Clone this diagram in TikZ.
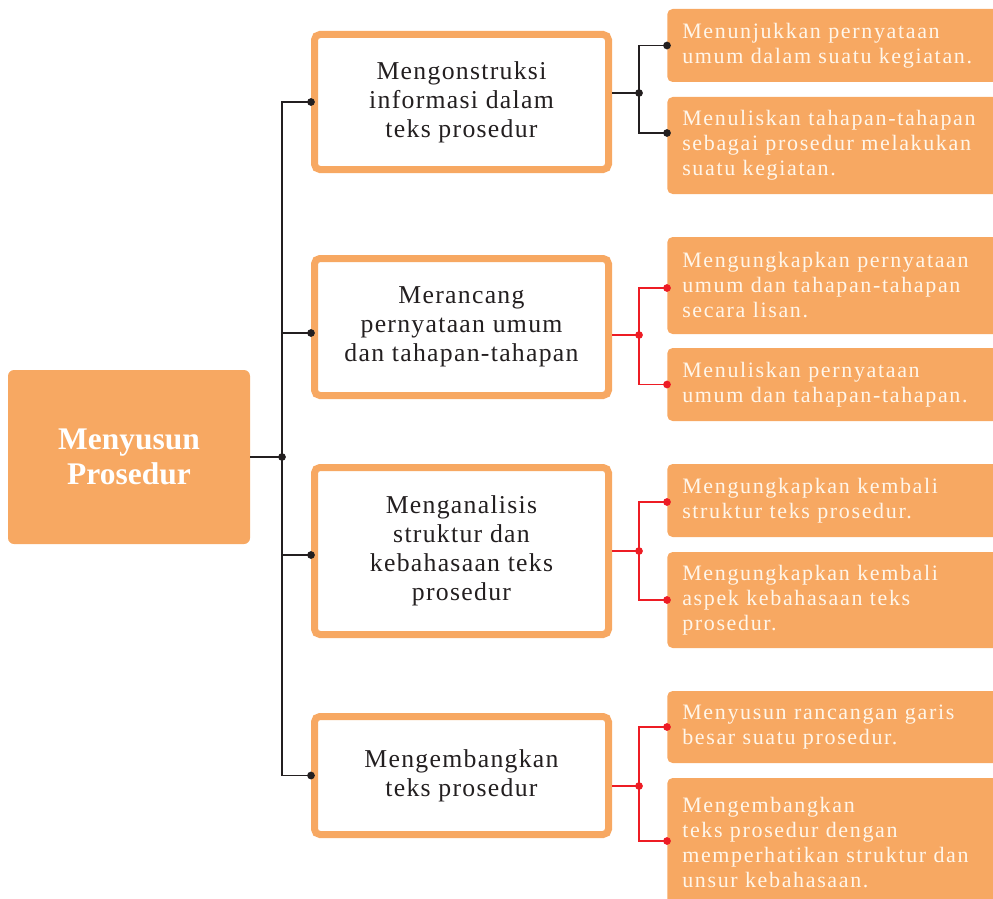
\documentclass[tikz,border=0pt]{standalone}
\usepackage{fontspec}
\setmainfont{Liberation Serif}
\newfontfamily\midfont[LetterSpace=5]{Liberation Serif}
\newfontfamily\rightfont[LetterSpace=7.5]{Liberation Serif}
\definecolor{orng}{HTML}{F7A862}
\definecolor{inkdark}{HTML}{231F20}
\definecolor{cream}{HTML}{FFF6EA}
\definecolor{redline}{HTML}{ED1C24}
\tikzset{
  rootbox/.style={rectangle, fill=orng, rounded corners=4.5pt, minimum width=181.5pt, minimum height=130.5pt,
    inner sep=0pt, align=center, text=white, font=\bfseries\fontsize{23.6}{26.25}\selectfont},
  midbox/.style={rectangle, draw=orng, line width=5.25pt, rounded corners=4pt, fill=white,
    minimum width=220.5pt, inner sep=0pt, align=center, text=inkdark, font=\midfont\fontsize{19.3}{21.75}\selectfont},
  rbox/.style={rectangle, fill=orng, rounded corners=4pt, anchor=west, minimum width=262.5pt,
    text width=240pt, inner xsep=11.25pt, inner ysep=0pt, align=left, text=cream,
    font=\rightfont\fontsize{16.5}{18.75}\selectfont},
  blk/.style={draw=inkdark, line width=1.3pt},
  redl/.style={draw=redline, line width=1.3pt},
  bdot/.style={fill=inkdark, draw=none},
  rdot/.style={fill=redline, draw=none}
}
\begin{document}
\begin{tikzpicture}[x=0.75pt, y=-0.75pt]
\useasboundingbox (0,0) rectangle (993,899);
% root
\node[rootbox] (root) at (129,457) {Menyusun\\Prosedur};
% middle boxes
\node[midbox, minimum height=101.25pt] (m1) at (461.5,102) {Mengonstruksi\\informasi dalam\\teks prosedur};
\node[midbox, minimum height=102.75pt] (m2) at (461.5,327) {Merancang\\pernyataan umum\\dan tahapan-tahapan};
\node[midbox, minimum height=125.25pt] (m3) at (461.5,551) {Menganalisis\\struktur dan\\kebahasaan teks\\prosedur};
\node[midbox, minimum height=88.5pt] (m4) at (461.5,775.5) {Mengembangkan\\teks prosedur};
% right boxes
\node[rbox, minimum height=54.75pt] (r1) at (667,45.5) {Menunjukkan pernyataan\\umum dalam suatu kegiatan.};
\node[rbox, minimum height=72.75pt] (r2) at (667,145.5) {Menuliskan tahapan-tahapan\\sebagai prosedur melakukan\\suatu kegiatan.};
\node[rbox, minimum height=72.75pt] (r3) at (667,285.5) {Mengungkapkan pernyataan\\umum dan tahapan-tahapan\\secara lisan.};
\node[rbox, minimum height=54.75pt] (r4) at (667,384.5) {Menuliskan pernyataan\\umum dan tahapan-tahapan.};
\node[rbox, minimum height=54.75pt] (r5) at (667,500.5) {Mengungkapkan kembali\\struktur teks prosedur.};
\node[rbox, minimum height=72pt] (r6) at (667,600) {Mengungkapkan kembali\\aspek kebahasaan teks\\prosedur.};
\node[rbox, minimum height=54pt] (r7) at (667,727) {Menyusun rancangan garis\\besar suatu prosedur.};
\node[rbox, minimum height=97.5pt] (r8) at (667,843) {Mengembangkan\\teks prosedur dengan\\memperhatikan struktur dan\\unsur kebahasaan.};
% left tree
\coordinate (jr) at (282,457);
\coordinate (m2l) at ([yshift=-4.5pt]m2.west);
\coordinate (m3l) at ([yshift=-3pt]m3.west);
\draw[blk] (root.east) -- (jr);
\draw[blk] (m1.west) -| (jr) |- (m4.west);
\draw[blk] (m2l) -- (m2l -| jr);
\draw[blk] (m3l) -- (m3l -| jr);
\foreach \p in {jr, m1.west, m2l, m3l, m4.west} \fill[bdot] (\p) circle (2.9pt);
% group 1 (black)
\coordinate (a1) at ([yshift=6.75pt]m1.east);
\coordinate (d1) at (r1.west);
\coordinate (d2) at ([yshift=9.375pt]r2.west);
\draw[blk] (a1) -- ++(27,0) coordinate (j1);
\draw[blk] (d1) -| (j1) |- (d2);
\foreach \p in {j1, d1, d2} \fill[bdot] (\p) circle (2.9pt);
% group 2 (red)
\coordinate (a2) at ([yshift=-6pt]m2.east);
\coordinate (d3) at ([yshift=-1.875pt]r3.west);
\coordinate (d4) at (r4.west);
\draw[redl] (a2) -- ++(27,0) coordinate (j2);
\draw[redl] (d3) -| (j2) |- (d4);
\foreach \p in {j2, d3, d4} \fill[rdot] (\p) circle (2.9pt);
% group 3 (red)
\coordinate (a3) at (m3.east);
\coordinate (d5) at ([yshift=-1.125pt]r5.west);
\coordinate (d6) at (r6.west);
\draw[redl] (a3) -- ++(27,0) coordinate (j3);
\draw[redl] (d5) -| (j3) |- (d6);
\foreach \p in {j3, d5, d6} \fill[rdot] (\p) circle (2.9pt);
% group 4 (red)
\coordinate (a4) at ([yshift=-7.875pt]m4.east);
\coordinate (d7) at (r7.west);
\coordinate (d8) at ([yshift=1.5pt]r8.west);
\draw[redl] (a4) -- ++(27,0) coordinate (j4);
\draw[redl] (d7) -| (j4) |- (d8);
\foreach \p in {j4, d7, d8} \fill[rdot] (\p) circle (2.9pt);
\end{tikzpicture}
\end{document}
